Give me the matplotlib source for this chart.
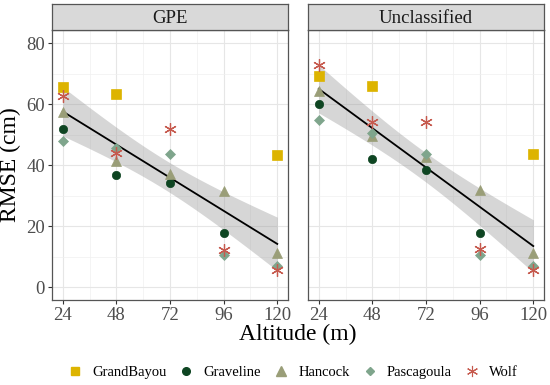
import numpy as np
import matplotlib
matplotlib.use("Agg")
import matplotlib.pyplot as plt
from matplotlib.lines import Line2D

plt.rcParams['font.family'] = ['Liberation Serif', 'DejaVu Serif']

altitudes = [24, 48, 72, 96, 120]
panels = ["GPE", "Unclassified"]
stations = ["GrandBayou", "Graveline", "Hancock", "Pascagoula", "Wolf"]

nan = np.nan
gpe = {
    "GrandBayou": [65.6, 63.3, nan, nan, 43.4],
    "Graveline":  [51.8, 36.8, 34.1, 17.7, nan],
    "Hancock":    [57.4, 41.5, 37.2, 31.6, 11.1],
    "Pascagoula": [47.9, 45.5, 43.7, 10.6, 6.8],
    "Wolf":       [62.7, 43.9, 51.8, 12.2, 5.5],
}
uncl = {
    "GrandBayou": [69.1, 65.8, nan, nan, 43.6],
    "Graveline":  [60.1, 42.1, 38.3, 17.7, nan],
    "Hancock":    [64.2, 49.6, 42.6, 31.7, 11.1],
    "Pascagoula": [54.9, 50.7, 43.7, 10.6, 7.0],
    "Wolf":       [72.7, 54.1, 54.3, 12.5, 5.5],
}
data = {"GPE": gpe, "Unclassified": uncl}

colors = {"GrandBayou": "#DDB400", "Graveline": "#0E4522", "Hancock": "#9A9E78",
          "Pascagoula": "#7FA58C", "Wolf": "#C65A4E"}
markers = {"GrandBayou": "s", "Graveline": "o", "Hancock": "^", "Pascagoula": "D", "Wolf": (6, 2, 0)}
msizes = {"GrandBayou": 6.5, "Graveline": 6, "Hancock": 7.5, "Pascagoula": 4.8, "Wolf": 9}

W, H = 550, 385
fig = plt.figure(figsize=(5.5, 3.85), dpi=100)

def fx(px): return px / W
def fy(py): return 1 - py / H

panel_x = [(52, 288), (308, 544)]
top, bottom = 30, 300
strip_top = 4

for i, name in enumerate(panels):
    x0, x1 = panel_x[i]
    ax = fig.add_axes([fx(x0), fy(bottom), fx(x1 - x0), (bottom - top) / H])
    sax = fig.add_axes([fx(x0), fy(top), fx(x1 - x0), (top - strip_top) / H])
    sax.set_facecolor("#D9D9D9")
    sax.set_xticks([]); sax.set_yticks([])
    for s in sax.spines.values():
        s.set_color("#555555"); s.set_linewidth(0.9)
    sax.text(0.5, 0.45, name, ha="center", va="center", fontsize=13.5, color="#1A1A1A",
             transform=sax.transAxes)

    d = data[name]
    xs, ys = [], []
    for st in stations:
        for a, v in zip(altitudes, d[st]):
            if not np.isnan(v):
                xs.append(a); ys.append(v)
    xs = np.array(xs, float); ys = np.array(ys, float)
    n = len(xs)
    b, a0 = np.polyfit(xs, ys, 1)
    resid = ys - (a0 + b * xs)
    s = np.sqrt(np.sum(resid ** 2) / (n - 2))
    xbar = xs.mean(); sxx = np.sum((xs - xbar) ** 2)
    xg = np.linspace(24, 120, 80)
    yg = a0 + b * xg
    se = s * np.sqrt(1 / n + (xg - xbar) ** 2 / sxx)
    t = 2.08
    ax.fill_between(xg, yg - t * se, yg + t * se, color="#999999", alpha=0.4, lw=0, zorder=2)
    ax.plot(xg, yg, color="black", lw=1.3, zorder=3)

    for st in stations:
        kw = dict(color=colors[st], marker=markers[st], ms=msizes[st], ls="none", zorder=4)
        if st == "Wolf":
            kw.update(mew=0.9, mfc="none")
        else:
            kw.update(mec=colors[st], mew=0.5)
        ax.plot(altitudes, d[st], **kw)

    ax.set_xlim(19.2, 124.8)
    ax.set_ylim(-4.2, 84.3)
    ax.set_xticks(altitudes)
    ax.set_xticks([36, 60, 84, 108], minor=True)
    ax.set_yticks([0, 20, 40, 60, 80])
    ax.set_yticks([10, 30, 50, 70], minor=True)
    ax.grid(True, which="major", color="#E6E6E6", lw=0.8, zorder=0)
    ax.grid(True, which="minor", color="#F0F0F0", lw=0.5, zorder=0)
    ax.set_axisbelow(True)
    ax.tick_params(which="minor", length=0)
    ax.tick_params(which="major", length=3, color="#333333", labelsize=13.5, labelcolor="#4D4D4D", pad=2)
    if i == 1:
        ax.tick_params(axis="y", labelleft=False, length=0)
    for sp in ax.spines.values():
        sp.set_color("#555555"); sp.set_linewidth(0.9)
    if i == 0:
        ax.set_ylabel("RMSE (cm)", fontsize=17, color="black", labelpad=4)

fig.text(fx((52 + 544) / 2), fy(334), "Altitude (m)", ha="center", va="center", fontsize=17)

handles = []
for st in stations:
    kw = dict(color=colors[st], marker=markers[st], ls="none")
    if st == "Wolf":
        kw.update(ms=8, mfc="none", mew=0.8)
    else:
        kw.update(ms={"GrandBayou": 6, "Graveline": 5.5, "Hancock": 6.5, "Pascagoula": 4.5}[st])
    handles.append(Line2D([], [], **kw))
fig.legend(handles, stations, loc="center", bbox_to_anchor=(fx(292), fy(372)), ncol=5,
           frameon=False, fontsize=10.5, handletextpad=0.6, columnspacing=0.75, handlelength=1.2)

fig.savefig("out.png", dpi=100)
